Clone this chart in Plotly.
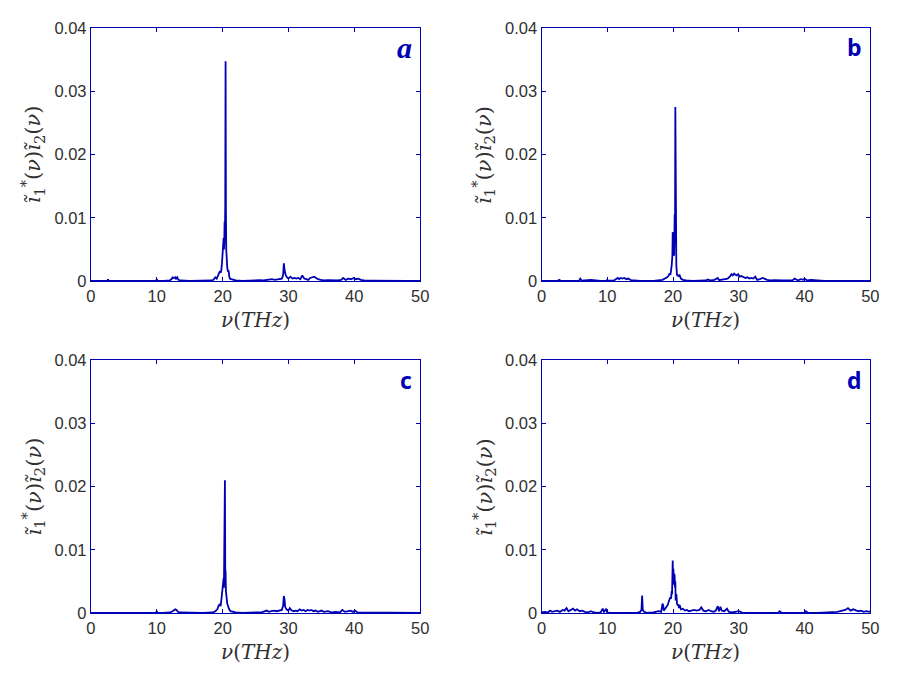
import plotly.graph_objects as go

# ---------------- data ----------------
freq_a = [0.0, 1.0, 2.0, 2.5, 2.6, 2.7, 3.5, 5.0, 6.5, 8.0,
          9.5, 9.9, 10.0, 10.1, 11.0, 12.0, 12.3, 12.4, 12.6, 12.8,
          12.9, 13.1, 13.3, 13.6, 15.0, 17.0, 18.4, 18.6, 18.9, 19.1,
          19.3, 19.5, 19.6, 19.7, 19.8, 19.9, 20.0, 20.05, 20.1, 20.15,
          20.2, 20.25, 20.3, 20.35, 20.4, 20.45, 20.5, 20.55, 20.6, 20.65,
          20.7, 20.8, 20.9, 21.0, 21.1, 21.3, 21.6, 22.0, 23.0, 24.0,
          24.8, 25.1, 25.6, 26.2, 26.8, 27.1, 27.5, 27.9, 28.3, 28.7,
          29.0, 29.2, 29.3, 29.4, 29.5, 29.6, 29.8, 30.0, 30.3, 30.6,
          30.9, 31.2, 31.5, 31.8, 32.1, 32.4, 32.7, 33.0, 33.3, 33.6,
          33.9, 34.2, 34.5, 34.9, 35.4, 36.0, 36.8, 37.5, 38.0, 38.3,
          38.7, 39.1, 39.5, 39.9, 40.2, 40.6, 41.0, 41.5, 42.5, 44.0,
          46.0, 48.0, 50.0]
amp_a = [0.00003, 0.00004, 0.00005, 0.00006, 0.00025, 0.00006, 0.00004, 0.00003, 0.00004, 0.00003,
         0.00005, 0.00008, 0.0003, 0.00008, 0.00005, 0.0001, 0.0004, 0.0006, 0.0005, 0.0006,
         0.0003, 0.0006, 0.0002, 0.0001, 0.00004, 0.00005, 0.0001, 0.0002, 0.0006, 0.0004,
         0.0009, 0.0012, 0.0016, 0.0013, 0.0017, 0.0028, 0.0045, 0.0040, 0.0055, 0.0068,
         0.0050, 0.0060, 0.0094, 0.0070, 0.0120, 0.0347, 0.0110, 0.0050, 0.0030, 0.0040,
         0.0022, 0.0015, 0.0017, 0.0008, 0.0004, 0.0003, 0.0002, 0.0001, 0.00005, 0.00008,
         0.0002, 0.0001, 0.00015, 0.0001, 0.0002, 0.00015, 0.0003, 0.0002, 0.0003, 0.0003,
         0.0004, 0.0010, 0.0028, 0.0018, 0.0012, 0.0009, 0.0006, 0.0004, 0.0007, 0.0004,
         0.0005, 0.0004, 0.0005, 0.0003, 0.0009, 0.0004, 0.0003, 0.0002, 0.0005, 0.0006,
         0.0007, 0.0005, 0.0003, 0.0002, 0.0001, 0.00015, 0.0001, 0.0001, 0.0002, 0.0005,
         0.0002, 0.0004, 0.0003, 0.0005, 0.0003, 0.0004, 0.0002, 0.0001, 0.00008, 0.00004,
         0.00003, 0.00003, 0.00003]

freq_b = [0.0, 1.5, 2.5, 2.7, 2.9, 4.5, 5.7, 5.9, 6.1, 7.5,
          9.0, 9.9, 10.0, 10.1, 11.0, 11.6, 11.8, 12.0, 12.3, 12.6,
          12.9, 13.2, 13.6, 15.0, 17.0, 18.4, 18.8, 19.1, 19.3, 19.5,
          19.6, 19.7, 19.8, 19.9, 19.95, 20.0, 20.05, 20.1, 20.15, 20.2,
          20.25, 20.3, 20.35, 20.4, 20.45, 20.5, 20.6, 20.7, 20.8, 20.9,
          21.0, 21.2, 21.5, 22.0, 23.0, 24.0, 25.0, 25.3, 25.7, 26.3,
          26.8, 27.0, 27.4, 27.9, 28.3, 28.7, 28.9, 29.1, 29.3, 29.5,
          29.7, 29.9, 30.1, 30.4, 30.7, 31.0, 31.3, 31.6, 31.9, 32.2,
          32.5, 32.8, 33.2, 33.6, 33.9, 34.3, 34.8, 35.5, 36.5, 37.5,
          38.2, 38.5, 39.0, 39.4, 39.8, 40.0, 40.4, 41.0, 42.0, 43.0,
          45.0, 47.0, 50.0]
amp_b = [0.00003, 0.00004, 0.00005, 0.0002, 0.00005, 0.00004, 0.00008, 0.0004, 0.00008, 0.0002,
         0.00005, 0.00008, 0.0002, 0.00006, 0.0001, 0.0005, 0.0003, 0.0005, 0.0004, 0.0005,
         0.0003, 0.0004, 0.00015, 0.00004, 0.00005, 0.0002, 0.0004, 0.0006, 0.0008, 0.0012,
         0.0010, 0.0016, 0.0025, 0.0040, 0.0077, 0.0060, 0.0075, 0.0045, 0.0040, 0.0060,
         0.0105, 0.0070, 0.0275, 0.0080, 0.0040, 0.0025, 0.0010, 0.0008, 0.0010, 0.0008,
         0.0009, 0.0004, 0.0002, 0.0001, 0.00005, 0.00008, 0.0001, 0.00025, 0.0001, 0.0002,
         0.0005, 0.00015, 0.0002, 0.0003, 0.0004, 0.0008, 0.0011, 0.0009, 0.0012, 0.0010,
         0.0009, 0.0011, 0.0007, 0.0008, 0.0006, 0.0005, 0.0006, 0.0004, 0.0005, 0.0004,
         0.0007, 0.0002, 0.0003, 0.0005, 0.0004, 0.0002, 0.0001, 0.00015, 0.0001, 0.0002,
         0.00015, 0.0004, 0.0001, 0.0003, 0.0002, 0.0004, 0.0001, 0.0002, 0.00008, 0.00005,
         0.00004, 0.00003, 0.00003]

freq_c = [0.0, 2.0, 4.0, 6.0, 8.0, 9.5, 9.9, 10.0, 10.1, 11.0,
          12.0, 12.4, 12.6, 12.8, 13.0, 13.2, 13.5, 15.0, 17.0, 18.5,
          18.9, 19.2, 19.4, 19.6, 19.7, 19.8, 19.9, 20.0, 20.05, 20.1,
          20.15, 20.2, 20.25, 20.3, 20.35, 20.4, 20.45, 20.5, 20.55, 20.6,
          20.7, 20.8, 20.9, 21.0, 21.2, 21.5, 22.0, 23.0, 24.0, 24.8,
          25.2, 26.0, 26.7, 27.0, 27.4, 27.8, 28.2, 28.6, 29.0, 29.2,
          29.3, 29.4, 29.5, 29.7, 30.0, 30.2, 30.5, 30.8, 31.1, 31.4,
          31.7, 32.0, 32.3, 32.6, 32.9, 33.2, 33.5, 33.8, 34.1, 34.5,
          35.0, 35.4, 36.0, 36.6, 37.2, 37.8, 38.2, 38.6, 39.0, 39.4,
          39.8, 40.1, 40.5, 41.0, 42.0, 43.0, 45.0, 47.0, 50.0]
amp_c = [0.00003, 0.00003, 0.00004, 0.00003, 0.00004, 0.00005, 0.00008, 0.0003, 0.00006, 0.00005,
         0.0001, 0.0003, 0.0005, 0.0006, 0.0005, 0.0002, 0.0001, 0.00004, 0.00005, 0.0001,
         0.0003, 0.0006, 0.0012, 0.0014, 0.0011, 0.0020, 0.0030, 0.0045, 0.0055, 0.0050,
         0.0055, 0.0040, 0.0133, 0.0060, 0.0210, 0.0070, 0.0065, 0.0035, 0.0030, 0.0020,
         0.0015, 0.0012, 0.0008, 0.0006, 0.0003, 0.0002, 0.0001, 0.00005, 0.00008, 0.0002,
         0.0001, 0.00015, 0.0004, 0.0002, 0.0003, 0.0004, 0.0003, 0.0004, 0.0005, 0.0012,
         0.0027, 0.0022, 0.0010, 0.0006, 0.0004, 0.0008, 0.0004, 0.0003, 0.0004, 0.0003,
         0.0006, 0.0004, 0.0005, 0.0003, 0.0005, 0.0004, 0.0005, 0.0003, 0.0004, 0.0002,
         0.0004, 0.0002, 0.0003, 0.0001, 0.0002, 0.0001, 0.0005, 0.0002, 0.0003, 0.0004,
         0.0002, 0.0004, 0.0001, 0.0001, 0.00008, 0.00005, 0.00004, 0.00003, 0.00003]

freq_d = [0.0, 0.5, 1.0, 1.3, 1.6, 2.0, 2.4, 2.8, 3.2, 3.5,
          3.8, 4.1, 4.4, 4.8, 5.1, 5.4, 5.8, 6.2, 6.6, 7.0,
          7.5, 8.0, 8.5, 9.0, 9.3, 9.5, 9.8, 10.0, 10.5, 11.5,
          12.5, 13.5, 14.5, 15.0, 15.2, 15.3, 15.4, 15.6, 16.0, 17.0,
          17.8, 18.2, 18.4, 18.5, 18.6, 18.8, 19.0, 19.2, 19.4, 19.6,
          19.7, 19.8, 19.85, 19.9, 19.95, 20.0, 20.05, 20.1, 20.15, 20.2,
          20.25, 20.3, 20.35, 20.4, 20.5, 20.6, 20.7, 20.8, 20.9, 21.0,
          21.2, 21.5, 21.8, 22.1, 22.4, 22.8, 23.2, 23.6, 24.0, 24.3,
          24.6, 25.0, 25.4, 25.8, 26.2, 26.5, 26.8, 27.0, 27.2, 27.4,
          27.8, 28.2, 28.5, 29.0, 29.6, 30.0, 30.5, 31.5, 33.0, 34.5,
          36.0, 36.2, 36.5, 38.0, 40.0, 40.2, 40.5, 42.0, 44.0, 45.0,
          45.4, 45.8, 46.2, 46.6, 47.0, 47.4, 47.8, 48.2, 48.6, 49.0,
          49.4, 49.8, 50.0]
amp_d = [0.0001, 0.0002, 0.0001, 0.0004, 0.0002, 0.0003, 0.0004, 0.0002, 0.0005, 0.0004,
         0.0008, 0.0003, 0.0005, 0.0007, 0.0004, 0.0006, 0.0003, 0.0004, 0.0002, 0.0001,
         0.0003, 0.0001, 0.00005, 0.0001, 0.0007, 0.0002, 0.0006, 0.0001, 0.00005, 0.00004,
         0.00003, 0.00004, 0.00005, 0.0002, 0.0005, 0.0028, 0.0005, 0.0002, 0.00005, 0.0001,
         0.0003, 0.0002, 0.0015, 0.0012, 0.0004, 0.0007, 0.0010, 0.0013, 0.0020, 0.0025,
         0.0023, 0.0035, 0.0030, 0.0055, 0.0083, 0.0060, 0.0070, 0.0050, 0.0045, 0.0062,
         0.0058, 0.0040, 0.0050, 0.0020, 0.0030, 0.0015, 0.0012, 0.0014, 0.0008, 0.0013,
         0.0006, 0.0007, 0.0004, 0.0005, 0.0003, 0.0004, 0.0005, 0.0004, 0.0005, 0.0009,
         0.0004, 0.0003, 0.0005, 0.0003, 0.0002, 0.0004, 0.0011, 0.0003, 0.0010, 0.0004,
         0.0003, 0.0007, 0.0002, 0.0001, 0.0002, 0.0003, 0.00008, 0.00005, 0.00006, 0.00004,
         0.00005, 0.0003, 0.00005, 0.00004, 0.00005, 0.0003, 0.00005, 0.00005, 0.0001, 0.0002,
         0.0003, 0.0004, 0.0005, 0.0008, 0.0004, 0.0006, 0.0004, 0.0003, 0.0004, 0.0002,
         0.0003, 0.0002, 0.0003]

panel_labels = ["a", "b", "c", "d"]
x_ticks = [0, 10, 20, 30, 40, 50]
y_ticks = [0, 0.01, 0.02, 0.03, 0.04]
y_tick_text = ["0", "0.01", "0.02", "0.03", "0.04"]

# ---------------- figure ----------------
BLUE = "#0000b4"
TXT = "#303030"
W, H = 899, 682

# plot-area domains (paper coords) for a, b, c, d
x_doms = [(87.3 / W, 421.7 / W), (545.0 / W, 879.0 / W)]
y_doms = [(1 - 279.5 / H, 1 - 19.3 / H), (1 - 620.5 / H, 1 - 360.7 / H)]

series = [(freq_a, amp_a), (freq_b, amp_b), (freq_c, amp_c), (freq_d, amp_d)]

fig = go.Figure()
annotations = []
for i, (fx, fy) in enumerate(series):
    row, col = divmod(i, 2)
    n = "" if i == 0 else str(i + 1)
    fig.add_trace(go.Scatter(x=fx, y=fy, mode="lines",
                             line=dict(color=BLUE, width=1.8),
                             xaxis="x" + n, yaxis="y" + n, showlegend=False))
    ax = dict(domain=x_doms[col], range=[0, 50], tickvals=x_ticks,
              anchor="y" + n, showline=True, linecolor=BLUE, linewidth=1.2,
              mirror="ticks", ticks="inside", ticklen=4, tickcolor=BLUE,
              showgrid=False, zeroline=False,
              tickfont=dict(family="Liberation Sans, Arial", size=16.5, color=TXT))
    ay = dict(domain=y_doms[row], range=[0, 0.04], tickvals=y_ticks,
              ticktext=y_tick_text, anchor="x" + n, showline=True,
              linecolor=BLUE, linewidth=1.2, mirror="ticks", ticks="inside",
              ticklen=4, tickcolor=BLUE, showgrid=False, zeroline=False,
              tickfont=dict(family="Liberation Sans, Arial", size=16.5, color=TXT))
    fig.update_layout(**{"xaxis" + n: ax, "yaxis" + n: ay})

    x0, x1 = x_doms[col]
    y0, y1 = y_doms[row]
    # x title
    annotations.append(dict(
        text="<i>ν</i>(<i>THz</i>)", xref="paper", yref="paper",
        x=(x0 + x1) / 2, y=y0 - 40 / H, xanchor="center", yanchor="middle",
        showarrow=False, font=dict(family="DejaVu Serif", size=20, color=TXT)))
    # y title
    annotations.append(dict(
        text="<i>ĩ</i><sub>1</sub><sup>*</sup>(<i>ν</i>)<i>ĩ</i><sub>2</sub>(<i>ν</i>)",
        xref="paper", yref="paper", x=x0 - 59 / W, y=(y0 + y1) / 2,
        xanchor="center", yanchor="middle", textangle=-90, showarrow=False,
        font=dict(family="DejaVu Serif", size=21, color=TXT)))
    # panel label
    if i == 0:
        lab_font = dict(family="Liberation Serif", size=30, color=BLUE)
        lab_text = "<b><i>a</i></b>"
    else:
        lab_font = dict(family="Open Sans", size=23, color=BLUE)
        lab_text = "<b>" + panel_labels[i] + "</b>"
    annotations.append(dict(
        text=lab_text, xref="paper", yref="paper",
        x=x1 - 6 / W, y=y1 - 20 / H, xanchor="right", yanchor="middle",
        showarrow=False, font=lab_font))

fig.update_layout(width=W, height=H, margin=dict(l=0, r=0, t=0, b=0),
                  paper_bgcolor="white", plot_bgcolor="white",
                  annotations=annotations)

fig.write_html("out.html")
